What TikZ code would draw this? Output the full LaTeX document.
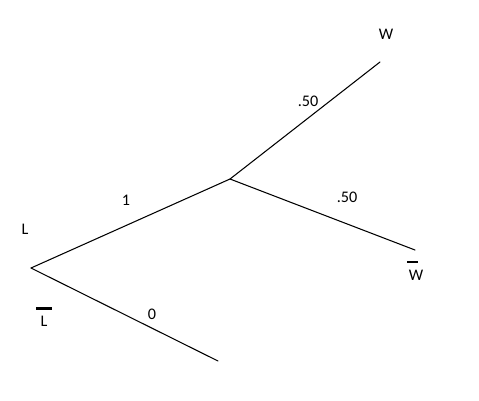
\documentclass[tikz,border=0pt]{standalone}
\usepackage{fontspec}
\setmainfont{Carlito}
\begin{document}
\begin{tikzpicture}[x=0.02cm,y=-0.02cm,line cap=round,line join=round,
  branch/.style={line width=0.6pt},
  lbl/.style={font=\fontsize{9.2}{11}\selectfont,inner sep=0pt},
  bar/.style={line width=1.6pt,line cap=butt}]
  \useasboundingbox (0,0) rectangle (479,400);
  % tree points
  \coordinate (root) at (31,268);
  \coordinate (mid) at (230,179);
  \coordinate (win) at (380,62);
  \coordinate (lose) at (415,250);
  \coordinate (nolearn) at (218,361);
  \draw[branch] (root) -- (mid);
  \draw[branch] (mid) -- (win);
  \draw[branch] (mid) -- (lose);
  \draw[branch] (root) -- (nolearn);
  % labels
  \node[lbl] (w) at (386,34) {W};
  \node[lbl] (pw) at (308,101) {.50};
  \node[lbl] (pl) at (126,200) {1};
  \node[lbl] (pwb) at (347,197) {.50};
  \node[lbl] (l) at (25,229) {L};
  \node[lbl] (wb) at (416,275) {W};
  \node[lbl] (lb) at (44,321) {L};
  \node[lbl] (pz) at (152,314) {0};
  \draw[bar] (407,262) -- (418,262);
  \draw[bar] (36,308.5) -- (52,308.5);
\end{tikzpicture}
\end{document}
